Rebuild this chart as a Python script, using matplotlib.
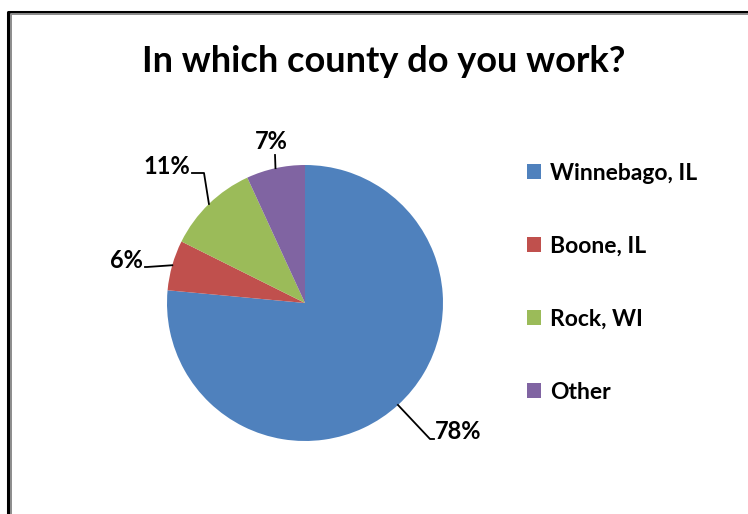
import matplotlib
matplotlib.use('Agg')
import matplotlib.pyplot as plt
import numpy as np

counties = ['Winnebago, IL', 'Boone, IL', 'Rock, WI', 'Other']
percent = [78, 6, 11, 7]
colors = ['#4F81BD', '#C0504D', '#9BBB59', '#8064A2']

W, H = 748, 514
plt.rcParams['font.family'] = ['Lato', 'DejaVu Sans']
plt.rcParams['font.weight'] = 'bold'

fig = plt.figure(figsize=(W / 100, H / 100), dpi=100)
ax = fig.add_axes([0, 0, 1, 1])

# frame around the chart (black outer, grey inner)
ax.plot([8.5, 8.5, W], [0, H - 11.5, H - 11.5], color='black', lw=2.2, solid_capstyle='butt')
ax.plot([11.5, 11.5, W], [0, H - 14, H - 14], color='#8c8c8c', lw=1.4, solid_capstyle='butt')

cx, cy, r = 305, H - 303, 138
wedges, _ = ax.pie(percent, colors=colors, startangle=90, counterclock=False,
                   center=(cx, cy), radius=r, frame=True,
                   wedgeprops=dict(linewidth=0))
ax.set_xlim(0, W)
ax.set_ylim(0, H)
ax.set_aspect('equal')
ax.axis('off')

# leader lines: edge of wedge -> elbow -> end, text next to end
leaders = [
    ((430, H - 439), (434, H - 439), (435, H - 439, 'left', 'baseline')),
    ((147, H - 267), (145, H - 267), (143, H - 268, 'right', 'baseline')),
    ((204, H - 173), (192, H - 173), (190, H - 174, 'right', 'baseline')),
    ((275, H - 155), (275, H - 155), (271, H - 149, 'center', 'baseline')),
]
for w, p, (elbow, end, (tx, ty, ha, va)) in zip(wedges, percent, leaders):
    mid = np.deg2rad((w.theta1 + w.theta2) / 2)
    ex, ey = cx + r * np.cos(mid), cy + r * np.sin(mid)
    ax.plot([ex, elbow[0], end[0]], [ey, elbow[1], end[1]], color='black', lw=1.3)
    ax.text(tx, ty, f'{p}%', ha=ha, va=va, fontsize=17, fontweight='bold')

ax.text(384, H - 72, 'In which county do you work?', ha='center', va='baseline',
        fontsize=26, fontweight='bold')

ax.legend(wedges, counties, loc='upper left', bbox_to_anchor=(506 / W, 1 - 142 / H),
          frameon=False, handlelength=0.62, handleheight=0.62,
          handletextpad=0.4, labelspacing=2.27, prop={'weight': 'bold', 'size': 16.5})

fig.savefig('out.png', dpi=100)
